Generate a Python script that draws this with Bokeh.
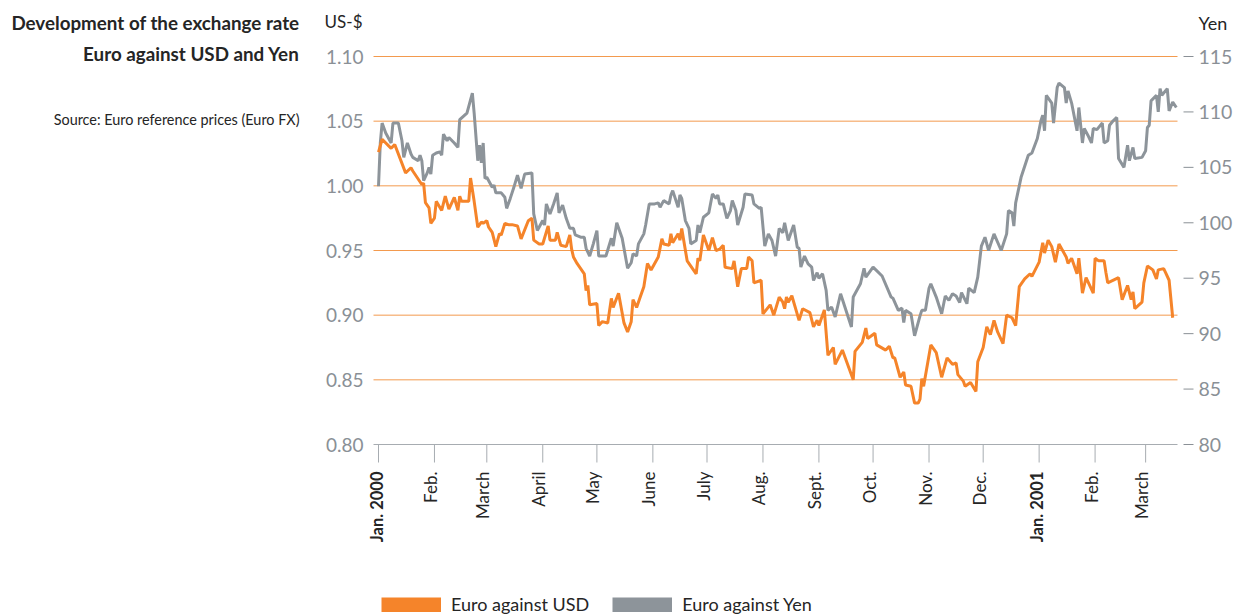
import math
from bokeh.plotting import figure
from bokeh.models import Range1d, Legend, LegendItem
from bokeh.core.properties import value
from bokeh.embed import file_html
from bokeh.resources import INLINE

# ---------------- data ----------------
# x values: days since 1 Jan 2000
month_days = [0, 31, 60, 91, 121, 152, 182, 213, 244, 274, 305, 335, 366, 397, 425]
month_labels = ["Jan. 2000", "Feb.", "March", "April", "May", "June", "July", "Aug.",
                "Sept.", "Oct.", "Nov.", "Dec.", "Jan. 2001", "Feb.", "March"]
bold_months = ["Jan. 2000", "Jan. 2001"]
usd_ticks = [0.80, 0.85, 0.90, 0.95, 1.00, 1.05, 1.10]
grid_ticks = [0.85, 0.90, 0.95, 1.00, 1.05, 1.10]
yen_ticks = [80, 85, 90, 95, 100, 105, 110, 115]

usd_days = [0, 2, 7, 9, 15, 18, 19, 24, 25, 26, 28, 29, 31, 32, 35, 37, 39, 42, 44, 45, 46,
            50, 51, 53, 55, 57, 58, 60, 61, 63, 65, 67, 68, 70, 72, 74, 77, 79, 83, 85, 86,
            89, 91, 94, 95, 98, 99, 101, 104, 106, 107, 108, 110, 114, 115, 116, 117, 121,
            122, 124, 127, 129, 130, 133, 136, 138, 140, 141, 143, 145, 147, 149, 151, 155,
            157, 158, 161, 162, 163, 166, 167, 168, 171, 176, 177, 178, 180, 182, 183, 185,
            187, 189, 191, 192, 196, 197, 199, 201, 204, 205, 207, 208, 212, 213, 217, 219,
            222, 224, 225, 226, 227, 229, 233, 235, 239, 241, 243, 244, 247, 249, 252, 253,
            257, 263, 264, 268, 270, 271, 275, 276, 281, 283, 285, 286, 289, 291, 292, 295,
            297, 299, 300, 301, 302, 306, 309, 312, 315, 318, 320, 321, 324, 325, 328, 331,
            332, 335, 337, 339, 341, 343, 346, 348, 351, 353, 355, 358, 361, 362, 366, 368,
            369, 371, 373, 375, 377, 381, 382, 384, 387, 388, 390, 392, 396, 397, 399, 402,
            403, 404, 410, 412, 415, 417, 418, 419, 423, 424, 426, 429, 431, 432, 435, 436,
            438, 440]
usd_values = [1.026, 1.036, 1.029, 1.032, 1.010, 1.014, 1.0115, 1.001, 1.002, 0.987, 0.983,
              0.971, 0.975, 0.988, 0.981, 0.992, 0.982, 0.991, 0.981, 0.992, 0.988,
              0.988, 1.006, 0.988, 0.968, 0.972, 0.971, 0.973, 0.968, 0.964, 0.953, 0.963,
              0.962, 0.971, 0.970, 0.970, 0.969, 0.959, 0.973, 0.975, 0.958,
              0.955, 0.955, 0.969, 0.958, 0.958, 0.964, 0.954, 0.953, 0.962, 0.951, 0.945,
              0.940, 0.932, 0.919, 0.923, 0.908, 0.909,
              0.892, 0.895, 0.894, 0.913, 0.906, 0.917, 0.894, 0.887, 0.895, 0.912, 0.906,
              0.914, 0.922, 0.940, 0.935, 0.945,
              0.959, 0.955, 0.954, 0.963, 0.956, 0.963, 0.958, 0.967, 0.942, 0.932, 0.944,
              0.942, 0.962, 0.954, 0.950, 0.960,
              0.950, 0.951, 0.954, 0.937, 0.936, 0.942, 0.922, 0.936, 0.936, 0.945, 0.942,
              0.925, 0.927, 0.901, 0.908, 0.900,
              0.914, 0.910, 0.905, 0.914, 0.910, 0.915, 0.896, 0.905, 0.902, 0.891, 0.896,
              0.892, 0.904, 0.869, 0.875, 0.862,
              0.873, 0.850, 0.872, 0.879, 0.890, 0.882, 0.886, 0.877, 0.873, 0.876, 0.867,
              0.867, 0.852, 0.856, 0.846, 0.845,
              0.832, 0.832, 0.835, 0.851, 0.845, 0.877, 0.871, 0.852, 0.867, 0.862, 0.863,
              0.854, 0.849, 0.845, 0.848, 0.841,
              0.864, 0.875, 0.891, 0.885, 0.896, 0.887, 0.878, 0.900, 0.898, 0.892, 0.922,
              0.928, 0.932, 0.930, 0.941, 0.956,
              0.948, 0.958, 0.953, 0.941, 0.955, 0.945, 0.940, 0.944, 0.932, 0.944, 0.917,
              0.929, 0.917, 0.944, 0.942, 0.942,
              0.933, 0.925, 0.929, 0.912, 0.923, 0.912, 0.918, 0.905, 0.910, 0.925, 0.938,
              0.935, 0.928, 0.935, 0.936, 0.933,
              0.927, 0.898]

yen_days = [0, 1, 2, 4, 7, 8, 11, 13, 14, 16, 18, 19, 22, 23, 24, 25, 27, 28, 29, 30, 32,
            34, 35, 36, 38, 39, 42, 44, 45, 47, 49, 52, 53, 55, 56, 57, 58, 59, 60, 63, 64,
            65, 68, 70, 71, 73, 75, 77, 79, 81, 85, 86, 88, 91, 92, 93, 95, 97, 99, 100,
            102, 104, 106, 108, 109, 112, 114, 115, 117, 119, 121, 122, 126, 129, 130, 132,
            135, 138, 140, 141, 143, 144, 147, 148, 150, 153, 155, 156, 158, 161, 162, 163,
            166, 167, 168, 170, 172, 173, 176, 177, 178, 180, 183, 185, 187, 188, 189, 191,
            193, 195, 196, 198, 199, 202, 203, 207, 208, 211, 212, 214, 216, 218, 220, 222,
            224, 225, 227, 230, 232, 233, 234, 236, 238, 240, 241, 243, 244, 246, 248, 249,
            251, 253, 256, 262, 263, 267, 269, 270, 274, 279, 284, 285, 288, 290, 291, 292,
            295, 297, 300, 301, 303, 305, 306, 309, 312, 314, 316, 318, 320, 322, 323, 326,
            327, 330, 332, 334, 336, 338, 341, 345, 348, 349, 351, 352, 353, 356, 360, 362,
            365, 367, 368, 369, 370, 373, 374, 376, 377, 380, 381, 382, 384, 387, 388, 390,
            391, 393, 395, 396, 398, 401, 402, 404, 405, 407, 409, 410, 413, 415, 416, 418,
            419, 423, 425, 426, 427, 428, 431, 432, 433, 434, 437, 438, 440, 442]
yen_values = [103.3, 107.2, 109.0, 108.1, 107.2, 109.0, 109.0, 107.4, 105.9, 107.2, 106.2,
              105.9, 105.6, 106.1, 105.6, 103.8, 104.5, 105.0, 104.4, 106.1, 106.3,
              106.4, 106.1, 108.0, 107.4, 107.7, 107.2, 106.8, 109.3, 109.6, 109.9, 111.7,
              109.9, 105.6, 107.0, 105.4, 107.2, 104.0, 104.1, 103.2, 103.4,
              102.7, 102.7, 102.3, 101.3, 102.2, 103.2, 104.3, 103.1, 104.4, 104.5, 100.8,
              99.3, 100.2, 99.8, 101.7, 100.8, 101.7, 102.7, 100.9,
              101.6, 100.4, 99.5, 99.5, 98.9, 98.7, 98.7, 97.7, 97.0, 98.1, 99.3, 97.0, 97.0,
              98.6, 97.9, 100.0,
              98.6, 95.9, 96.4, 97.2, 97.0, 98.1, 99.0, 99.8, 101.7, 101.7, 101.8, 101.4,
              102.0, 101.7, 102.5, 102.9,
              101.4, 102.5, 102.2, 100.2, 99.5, 98.1, 98.4, 99.8, 99.1, 100.5, 100.9, 102.6,
              102.2, 102.5, 101.7, 101.7,
              100.4, 101.1, 102.0, 101.1, 99.8, 101.4, 102.6, 102.5, 101.7, 101.3, 101.4,
              97.9, 99.0, 98.4, 97.0, 99.5,
              99.1, 100.0, 98.4, 99.8, 97.8, 97.7, 96.0, 97.0, 96.3, 96.0, 94.8, 95.5, 95.0,
              95.4, 93.9, 92.1,
              92.4, 91.5, 93.6, 90.6, 93.3, 94.5, 95.9, 95.1, 96.0, 95.2, 93.3, 93.2, 92.1,
              92.3, 91.0, 92.1,
              91.8, 89.8, 91.6, 92.1, 92.1, 94.1, 94.5, 93.3, 91.8, 93.4, 93.0, 93.6, 93.4,
              92.8, 93.7, 92.7,
              94.1, 93.7, 95.1, 97.9, 98.7, 97.5, 99.0, 97.5, 99.0, 101.1, 100.9, 99.7,
              101.8, 104.1, 106.1, 106.3,
              107.6, 109.2, 109.7, 108.3, 111.5, 110.8, 109.0, 112.2, 112.6, 112.2, 110.8,
              111.9, 110.8, 108.3, 110.4, 107.2,
              108.5, 107.9, 107.2, 108.5, 108.4, 109.0, 107.2, 107.4, 108.8, 109.2, 109.5,
              105.8, 105.0, 107.0, 105.6, 106.8,
              105.8, 105.9, 106.5, 108.6, 108.8, 111.0, 111.5, 110.0, 112.1, 111.5, 112.1,
              110.1, 110.9, 110.4]

title_lines = ["Development of the exchange rate", "Euro against USD and Yen"]
source_text = "Source: Euro reference prices (Euro FX)"
usd_unit = "US-$"
yen_unit = "Yen"
series_names = ["Euro against USD", "Euro against Yen"]

# ---------------- layout (canvas pixels) ----------------
W, H = 1239, 614
PL, PR, PT, PB = 373, 1177, 56, 444     # plot area: left/right edge, 1.10 line, 0.80 line
JAN_PX, PX_PER_DAY = 378, 1.805
U_LO, U_HI = 0.80, 1.10
Y_LO, Y_HI = 80, 115

ORANGE = "#F5842A"
GRAY = "#8D949A"
GRID = "#F39A4E"
TICKGRAY = "#8A9096"
AXISGRAY = "#A7ACB1"
DARK = "#252525"
FONT = value("Lato")

upp = (U_HI - U_LO) / (PB - PT)    # usd per pixel
ypp = (Y_HI - Y_LO) / (PB - PT)    # yen per pixel


def dx(cx):
    return (cx - JAN_PX) / PX_PER_DAY


def dy(cy):
    return U_HI - (cy - PT) * upp


p = figure(width=W, height=H, x_range=Range1d(dx(0), dx(W)), y_range=Range1d(dy(H), dy(0)),
           output_backend="svg", toolbar_location=None,
           x_axis_location=None, y_axis_location=None, min_border=0)
p.min_border_left = p.min_border_right = p.min_border_top = p.min_border_bottom = 0
p.outline_line_color = None
p.xgrid.visible = False
p.ygrid.visible = False
p.extra_y_ranges = {"yen": Range1d(Y_LO - (H - PB) * ypp, Y_HI + PT * ypp)}

# horizontal grid lines
p.segment(x0=[dx(PL)] * len(grid_ticks), x1=[dx(PR)] * len(grid_ticks),
          y0=grid_ticks, y1=grid_ticks, line_color=GRID, line_width=1)
# x axis line and month ticks
p.segment(x0=[dx(PL)], x1=[dx(PR)], y0=[U_LO], y1=[U_LO], line_color=AXISGRAY, line_width=1)
p.segment(x0=month_days, x1=month_days, y0=[U_LO] * len(month_days),
          y1=[dy(PB + 18)] * len(month_days), line_color=AXISGRAY, line_width=1)
# right axis ticks
p.segment(x0=[dx(PR + 6)] * len(yen_ticks), x1=[dx(PR + 16)] * len(yen_ticks),
          y0=yen_ticks, y1=yen_ticks, y_range_name="yen", line_color=TICKGRAY, line_width=1)

# series
yen_r = p.line(yen_days, yen_values, y_range_name="yen", line_color=GRAY, line_width=3)
usd_r = p.line(usd_days, usd_values, line_color=ORANGE, line_width=3)

# left tick labels
p.text(x=[dx(PL - 10)] * len(usd_ticks), y=usd_ticks, text=[f"{v:.2f}" for v in usd_ticks],
       text_align="right", text_baseline="middle", text_font=FONT, text_font_size="19px",
       text_color=TICKGRAY)
# right tick labels
p.text(x=[dx(PR + 21)] * len(yen_ticks), y=yen_ticks, text=[str(v) for v in yen_ticks],
       y_range_name="yen", text_align="left", text_baseline="middle", text_font=FONT,
       text_font_size="19.5px", text_color=TICKGRAY)

# month labels (vertical, reading upwards, sitting just left of their tick)
for bold in (False, True):
    sel = [(d, t) for d, t in zip(month_days, month_labels) if (t in bold_months) == bold]
    p.text(x=[d for d, _ in sel], y=[dy(PB + 27)] * len(sel), text=[t for _, t in sel],
           angle=math.pi / 2, text_align="right", text_baseline="middle",
           x_offset=-2 if bold else -4,
           text_font=FONT, text_font_size="16.5px" if bold else "17px", text_color=DARK,
           text_font_style="bold" if bold else "normal")

# titles, source and units
p.text(x=[dx(299)] * 2, y=[dy(22), dy(53)], text=title_lines, text_align="right",
       text_baseline="middle", text_font=FONT, text_font_style="bold",
       text_font_size="18.8px", text_color=DARK)
p.text(x=[dx(299)], y=[dy(119)], text=[source_text], text_align="right",
       text_baseline="middle", text_font=FONT, text_font_size="14.4px", text_color=DARK)
p.text(x=[dx(PL - 11)], y=[dy(21)], text=[usd_unit], text_align="right",
       text_baseline="middle", text_font=FONT, text_font_size="17px", text_color=DARK)
p.text(x=[dx(PR + 21)], y=[dy(22)], text=[yen_unit], text_align="left",
       text_baseline="middle", text_font=FONT, text_font_size="18px", text_color=DARK)

# legend (swatches are thick, hidden copies of the series)
usd_sw = p.line(usd_days, usd_values, line_color=ORANGE, line_width=15, line_cap="butt",
                visible=False)
yen_sw = p.line(yen_days, yen_values, y_range_name="yen", line_color=GRAY, line_width=15,
                line_cap="butt", visible=False)
legend = Legend(items=[LegendItem(label=series_names[0], renderers=[usd_sw]),
                       LegendItem(label=series_names[1], renderers=[yen_sw])],
                orientation="horizontal", location=(381, -1))
legend.glyph_width = 60
legend.glyph_height = 15
legend.label_height = 15
legend.label_standoff = 10
legend.spacing = 23
legend.padding = 0
legend.margin = 0
legend.border_line_color = None
legend.background_fill_alpha = 0
legend.label_text_font = "Lato"
legend.label_text_font_size = "18px"
legend.label_text_color = DARK
legend.click_policy = "none"
p.add_layout(legend)

open("out.html", "w").write(file_html(p, INLINE))
